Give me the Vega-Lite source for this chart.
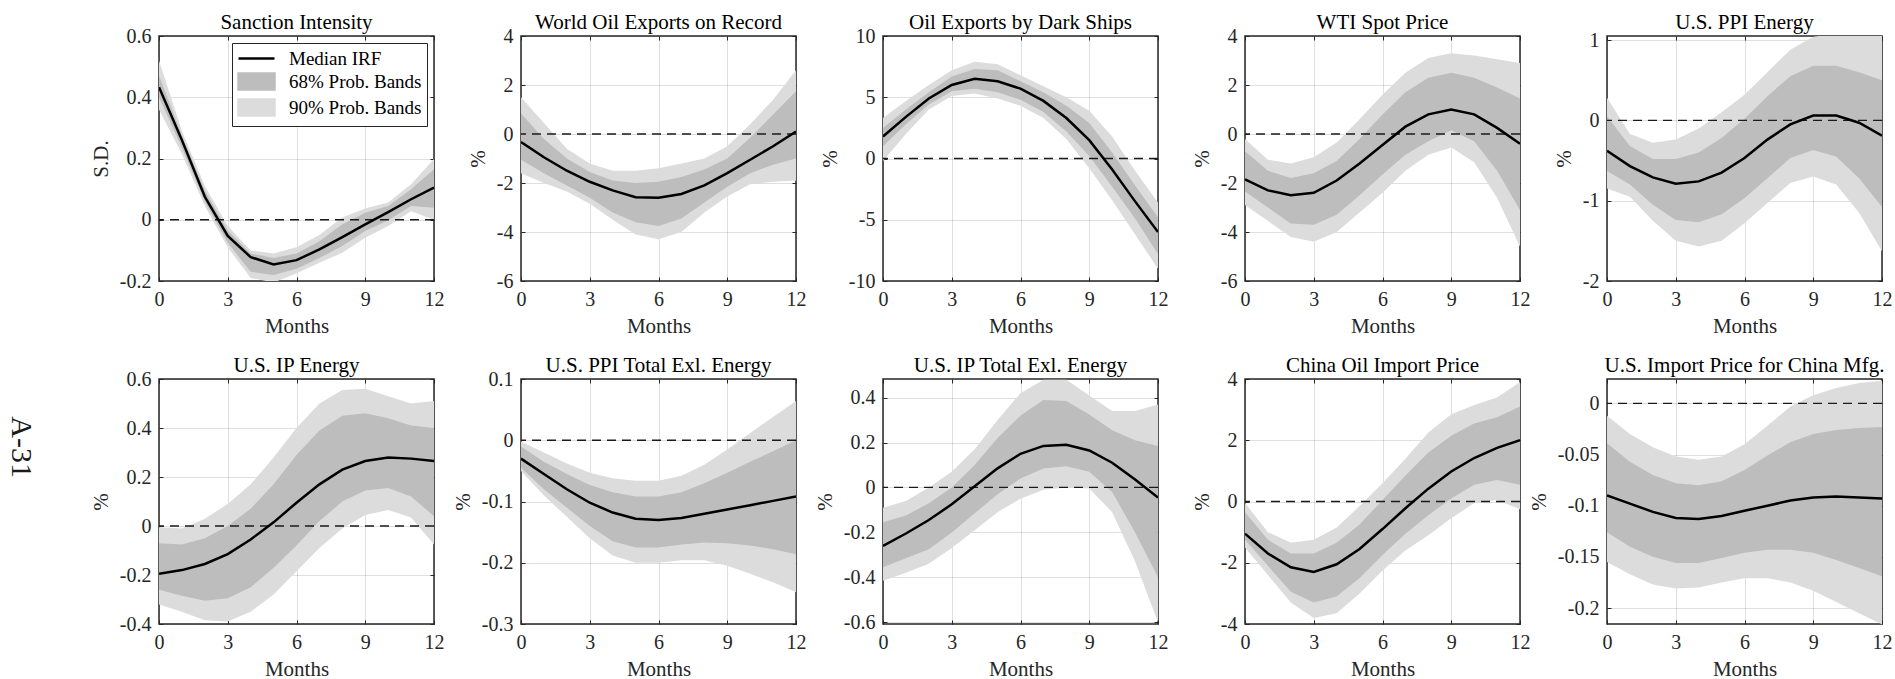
{
"$schema": "https://vega.github.io/schema/vega-lite/v6.json",
"padding": {"left": 5, "top": 11, "right": 5, "bottom": 5},
"title": {"text": "A-31", "orient": "left", "angle": 90, "fontSize": 30, "font": "Liberation Serif", "fontWeight": "normal", "color": "#1a1a1a", "offset": 24, "dx": -264},
"datasets": {"irf": [
{"p":1,"m":0,"med":0.433,"lo68":0.40,"hi68":0.47,"lo90":0.36,"hi90":0.52},
{"p":1,"m":1,"med":0.26,"lo68":0.235,"hi68":0.275,"lo90":0.215,"hi90":0.29},
{"p":1,"m":2,"med":0.075,"lo68":0.06,"hi68":0.095,"lo90":0.045,"hi90":0.11},
{"p":1,"m":3,"med":-0.053,"lo68":-0.075,"hi68":-0.035,"lo90":-0.09,"hi90":-0.02},
{"p":1,"m":4,"med":-0.122,"lo68":-0.17,"hi68":-0.11,"lo90":-0.19,"hi90":-0.10},
{"p":1,"m":5,"med":-0.146,"lo68":-0.18,"hi68":-0.125,"lo90":-0.205,"hi90":-0.11},
{"p":1,"m":6,"med":-0.132,"lo68":-0.16,"hi68":-0.11,"lo90":-0.175,"hi90":-0.09},
{"p":1,"m":7,"med":-0.097,"lo68":-0.125,"hi68":-0.07,"lo90":-0.14,"hi90":-0.05},
{"p":1,"m":8,"med":-0.057,"lo68":-0.086,"hi68":-0.015,"lo90":-0.108,"hi90":0.007},
{"p":1,"m":9,"med":-0.015,"lo68":-0.037,"hi68":0.023,"lo90":-0.059,"hi90":0.037},
{"p":1,"m":10,"med":0.025,"lo68":-0.002,"hi68":0.045,"lo90":-0.02,"hi90":0.056},
{"p":1,"m":11,"med":0.067,"lo68":0.045,"hi68":0.10,"lo90":0.028,"hi90":0.116},
{"p":1,"m":12,"med":0.105,"lo68":0.039,"hi68":0.165,"lo90":0.0,"hi90":0.198},
{"p":2,"m":0,"med":-0.33,"lo68":-1.05,"hi68":0.85,"lo90":-1.6,"hi90":1.5},
{"p":2,"m":1,"med":-0.95,"lo68":-1.6,"hi68":-0.2,"lo90":-2.0,"hi90":0.45},
{"p":2,"m":2,"med":-1.5,"lo68":-2.1,"hi68":-1.0,"lo90":-2.35,"hi90":-0.6},
{"p":2,"m":3,"med":-1.95,"lo68":-2.6,"hi68":-1.55,"lo90":-2.85,"hi90":-1.2},
{"p":2,"m":4,"med":-2.3,"lo68":-3.2,"hi68":-1.9,"lo90":-3.5,"hi90":-1.5},
{"p":2,"m":5,"med":-2.58,"lo68":-3.6,"hi68":-2.0,"lo90":-4.1,"hi90":-1.5},
{"p":2,"m":6,"med":-2.6,"lo68":-3.75,"hi68":-1.95,"lo90":-4.3,"hi90":-1.4},
{"p":2,"m":7,"med":-2.45,"lo68":-3.45,"hi68":-1.75,"lo90":-4.0,"hi90":-1.2},
{"p":2,"m":8,"med":-2.1,"lo68":-2.8,"hi68":-1.45,"lo90":-3.2,"hi90":-1.0},
{"p":2,"m":9,"med":-1.6,"lo68":-2.15,"hi68":-1.0,"lo90":-2.55,"hi90":-0.5},
{"p":2,"m":10,"med":-1.05,"lo68":-1.6,"hi68":-0.15,"lo90":-2.05,"hi90":0.4},
{"p":2,"m":11,"med":-0.5,"lo68":-1.25,"hi68":0.8,"lo90":-1.95,"hi90":1.4},
{"p":2,"m":12,"med":0.1,"lo68":-1.0,"hi68":1.75,"lo90":-1.9,"hi90":2.6},
{"p":3,"m":0,"med":1.8,"lo68":1.0,"hi68":2.5,"lo90":-0.2,"hi90":3.3},
{"p":3,"m":1,"med":3.4,"lo68":2.8,"hi68":4.0,"lo90":2.0,"hi90":4.7},
{"p":3,"m":2,"med":4.9,"lo68":4.4,"hi68":5.4,"lo90":4.0,"hi90":6.0},
{"p":3,"m":3,"med":6.0,"lo68":5.5,"hi68":6.7,"lo90":5.1,"hi90":7.2},
{"p":3,"m":4,"med":6.5,"lo68":5.7,"hi68":7.3,"lo90":5.3,"hi90":7.9},
{"p":3,"m":5,"med":6.3,"lo68":5.4,"hi68":7.2,"lo90":4.9,"hi90":7.7},
{"p":3,"m":6,"med":5.7,"lo68":4.8,"hi68":6.3,"lo90":4.3,"hi90":6.8},
{"p":3,"m":7,"med":4.7,"lo68":3.8,"hi68":5.4,"lo90":3.3,"hi90":5.9},
{"p":3,"m":8,"med":3.3,"lo68":2.2,"hi68":4.3,"lo90":1.6,"hi90":5.0},
{"p":3,"m":9,"med":1.5,"lo68":0.2,"hi68":2.9,"lo90":-0.8,"hi90":3.9},
{"p":3,"m":10,"med":-0.9,"lo68":-2.3,"hi68":0.5,"lo90":-3.4,"hi90":1.8},
{"p":3,"m":11,"med":-3.5,"lo68":-4.9,"hi68":-2.2,"lo90":-6.2,"hi90":-1.0},
{"p":3,"m":12,"med":-6.0,"lo68":-7.8,"hi68":-4.8,"lo90":-9.0,"hi90":-3.6},
{"p":4,"m":0,"med":-1.85,"lo68":-2.35,"hi68":-0.7,"lo90":-2.9,"hi90":-0.2},
{"p":4,"m":1,"med":-2.3,"lo68":-3.0,"hi68":-1.5,"lo90":-3.55,"hi90":-1.05},
{"p":4,"m":2,"med":-2.5,"lo68":-3.65,"hi68":-1.8,"lo90":-4.2,"hi90":-1.2},
{"p":4,"m":3,"med":-2.4,"lo68":-3.7,"hi68":-1.6,"lo90":-4.4,"hi90":-0.95},
{"p":4,"m":4,"med":-1.9,"lo68":-3.3,"hi68":-1.1,"lo90":-4.0,"hi90":-0.35},
{"p":4,"m":5,"med":-1.2,"lo68":-2.5,"hi68":-0.2,"lo90":-3.2,"hi90":0.6},
{"p":4,"m":6,"med":-0.45,"lo68":-1.65,"hi68":0.8,"lo90":-2.4,"hi90":1.6},
{"p":4,"m":7,"med":0.3,"lo68":-0.85,"hi68":1.7,"lo90":-1.5,"hi90":2.5},
{"p":4,"m":8,"med":0.8,"lo68":-0.3,"hi68":2.3,"lo90":-0.85,"hi90":3.1},
{"p":4,"m":9,"med":1.0,"lo68":0.15,"hi68":2.5,"lo90":-0.55,"hi90":3.3},
{"p":4,"m":10,"med":0.8,"lo68":-0.3,"hi68":2.3,"lo90":-1.15,"hi90":3.2},
{"p":4,"m":11,"med":0.25,"lo68":-1.5,"hi68":1.9,"lo90":-2.6,"hi90":3.05},
{"p":4,"m":12,"med":-0.4,"lo68":-3.1,"hi68":1.45,"lo90":-4.6,"hi90":2.9},
{"p":5,"m":0,"med":-0.38,"lo68":-0.63,"hi68":0.05,"lo90":-0.85,"hi90":0.28},
{"p":5,"m":1,"med":-0.57,"lo68":-0.8,"hi68":-0.32,"lo90":-0.95,"hi90":-0.17},
{"p":5,"m":2,"med":-0.71,"lo68":-1.05,"hi68":-0.48,"lo90":-1.25,"hi90":-0.28},
{"p":5,"m":3,"med":-0.79,"lo68":-1.24,"hi68":-0.48,"lo90":-1.5,"hi90":-0.24},
{"p":5,"m":4,"med":-0.76,"lo68":-1.27,"hi68":-0.4,"lo90":-1.57,"hi90":-0.1},
{"p":5,"m":5,"med":-0.65,"lo68":-1.17,"hi68":-0.22,"lo90":-1.5,"hi90":0.1},
{"p":5,"m":6,"med":-0.47,"lo68":-0.97,"hi68":0.02,"lo90":-1.28,"hi90":0.32},
{"p":5,"m":7,"med":-0.24,"lo68":-0.72,"hi68":0.3,"lo90":-1.03,"hi90":0.6},
{"p":5,"m":8,"med":-0.05,"lo68":-0.47,"hi68":0.55,"lo90":-0.78,"hi90":0.88},
{"p":5,"m":9,"med":0.06,"lo68":-0.37,"hi68":0.68,"lo90":-0.7,"hi90":1.04},
{"p":5,"m":10,"med":0.06,"lo68":-0.45,"hi68":0.68,"lo90":-0.8,"hi90":1.08},
{"p":5,"m":11,"med":-0.03,"lo68":-0.72,"hi68":0.6,"lo90":-1.15,"hi90":1.1},
{"p":5,"m":12,"med":-0.19,"lo68":-1.08,"hi68":0.5,"lo90":-1.63,"hi90":1.12},
{"p":6,"m":0,"med":-0.195,"lo68":-0.26,"hi68":-0.07,"lo90":-0.32,"hi90":-0.005},
{"p":6,"m":1,"med":-0.18,"lo68":-0.285,"hi68":-0.075,"lo90":-0.35,"hi90":-0.01},
{"p":6,"m":2,"med":-0.155,"lo68":-0.305,"hi68":-0.05,"lo90":-0.385,"hi90":0.03},
{"p":6,"m":3,"med":-0.115,"lo68":-0.295,"hi68":0.0,"lo90":-0.39,"hi90":0.09},
{"p":6,"m":4,"med":-0.055,"lo68":-0.25,"hi68":0.07,"lo90":-0.35,"hi90":0.17},
{"p":6,"m":5,"med":0.015,"lo68":-0.17,"hi68":0.17,"lo90":-0.28,"hi90":0.28},
{"p":6,"m":6,"med":0.095,"lo68":-0.08,"hi68":0.29,"lo90":-0.185,"hi90":0.4},
{"p":6,"m":7,"med":0.17,"lo68":0.02,"hi68":0.39,"lo90":-0.09,"hi90":0.5},
{"p":6,"m":8,"med":0.23,"lo68":0.1,"hi68":0.45,"lo90":-0.01,"hi90":0.555},
{"p":6,"m":9,"med":0.265,"lo68":0.145,"hi68":0.46,"lo90":0.045,"hi90":0.56},
{"p":6,"m":10,"med":0.28,"lo68":0.155,"hi68":0.44,"lo90":0.065,"hi90":0.53},
{"p":6,"m":11,"med":0.275,"lo68":0.12,"hi68":0.41,"lo90":0.035,"hi90":0.5},
{"p":6,"m":12,"med":0.265,"lo68":0.04,"hi68":0.4,"lo90":-0.075,"hi90":0.51},
{"p":7,"m":0,"med":-0.03,"lo68":-0.045,"hi68":-0.01,"lo90":-0.05,"hi90":-0.002},
{"p":7,"m":1,"med":-0.055,"lo68":-0.08,"hi68":-0.035,"lo90":-0.09,"hi90":-0.02},
{"p":7,"m":2,"med":-0.08,"lo68":-0.11,"hi68":-0.055,"lo90":-0.125,"hi90":-0.038},
{"p":7,"m":3,"med":-0.102,"lo68":-0.14,"hi68":-0.073,"lo90":-0.16,"hi90":-0.053},
{"p":7,"m":4,"med":-0.118,"lo68":-0.165,"hi68":-0.085,"lo90":-0.188,"hi90":-0.062},
{"p":7,"m":5,"med":-0.128,"lo68":-0.175,"hi68":-0.092,"lo90":-0.2,"hi90":-0.066},
{"p":7,"m":6,"med":-0.13,"lo68":-0.175,"hi68":-0.092,"lo90":-0.2,"hi90":-0.066},
{"p":7,"m":7,"med":-0.127,"lo68":-0.17,"hi68":-0.085,"lo90":-0.196,"hi90":-0.058},
{"p":7,"m":8,"med":-0.12,"lo68":-0.167,"hi68":-0.07,"lo90":-0.196,"hi90":-0.04},
{"p":7,"m":9,"med":-0.113,"lo68":-0.168,"hi68":-0.053,"lo90":-0.205,"hi90":-0.015},
{"p":7,"m":10,"med":-0.106,"lo68":-0.172,"hi68":-0.035,"lo90":-0.218,"hi90":0.012},
{"p":7,"m":11,"med":-0.099,"lo68":-0.178,"hi68":-0.018,"lo90":-0.232,"hi90":0.038},
{"p":7,"m":12,"med":-0.092,"lo68":-0.186,"hi68":0.0,"lo90":-0.248,"hi90":0.064},
{"p":8,"m":0,"med":-0.26,"lo68":-0.355,"hi68":-0.155,"lo90":-0.415,"hi90":-0.09},
{"p":8,"m":1,"med":-0.205,"lo68":-0.315,"hi68":-0.125,"lo90":-0.38,"hi90":-0.06},
{"p":8,"m":2,"med":-0.145,"lo68":-0.275,"hi68":-0.07,"lo90":-0.34,"hi90":0.0},
{"p":8,"m":3,"med":-0.075,"lo68":-0.2,"hi68":0.0,"lo90":-0.27,"hi90":0.07},
{"p":8,"m":4,"med":0.005,"lo68":-0.115,"hi68":0.1,"lo90":-0.19,"hi90":0.17},
{"p":8,"m":5,"med":0.085,"lo68":-0.03,"hi68":0.22,"lo90":-0.11,"hi90":0.3},
{"p":8,"m":6,"med":0.15,"lo68":0.04,"hi68":0.32,"lo90":-0.05,"hi90":0.42},
{"p":8,"m":7,"med":0.185,"lo68":0.085,"hi68":0.39,"lo90":-0.01,"hi90":0.48},
{"p":8,"m":8,"med":0.19,"lo68":0.095,"hi68":0.385,"lo90":0.0,"hi90":0.48},
{"p":8,"m":9,"med":0.165,"lo68":0.07,"hi68":0.325,"lo90":-0.005,"hi90":0.41},
{"p":8,"m":10,"med":0.11,"lo68":-0.02,"hi68":0.255,"lo90":-0.11,"hi90":0.34},
{"p":8,"m":11,"med":0.035,"lo68":-0.2,"hi68":0.21,"lo90":-0.33,"hi90":0.34},
{"p":8,"m":12,"med":-0.045,"lo68":-0.4,"hi68":0.185,"lo90":-0.6,"hi90":0.37},
{"p":9,"m":0,"med":-1.05,"lo68":-1.25,"hi68":-0.35,"lo90":-1.5,"hi90":-0.05},
{"p":9,"m":1,"med":-1.7,"lo68":-2.1,"hi68":-1.25,"lo90":-2.4,"hi90":-1.0},
{"p":9,"m":2,"med":-2.15,"lo68":-2.95,"hi68":-1.7,"lo90":-3.3,"hi90":-1.35},
{"p":9,"m":3,"med":-2.3,"lo68":-3.3,"hi68":-1.7,"lo90":-3.8,"hi90":-1.25},
{"p":9,"m":4,"med":-2.05,"lo68":-3.1,"hi68":-1.35,"lo90":-3.65,"hi90":-0.85},
{"p":9,"m":5,"med":-1.55,"lo68":-2.5,"hi68":-0.75,"lo90":-3.0,"hi90":-0.15},
{"p":9,"m":6,"med":-0.9,"lo68":-1.75,"hi68":0.05,"lo90":-2.25,"hi90":0.6},
{"p":9,"m":7,"med":-0.22,"lo68":-1.05,"hi68":0.85,"lo90":-1.6,"hi90":1.4},
{"p":9,"m":8,"med":0.42,"lo68":-0.45,"hi68":1.6,"lo90":-1.1,"hi90":2.25},
{"p":9,"m":9,"med":0.98,"lo68":0.1,"hi68":2.15,"lo90":-0.55,"hi90":2.85},
{"p":9,"m":10,"med":1.42,"lo68":0.55,"hi68":2.55,"lo90":-0.05,"hi90":3.15},
{"p":9,"m":11,"med":1.75,"lo68":0.7,"hi68":2.75,"lo90":0.05,"hi90":3.4},
{"p":9,"m":12,"med":2.0,"lo68":0.55,"hi68":3.1,"lo90":-0.25,"hi90":3.9},
{"p":10,"m":0,"med":-0.09,"lo68":-0.126,"hi68":-0.039,"lo90":-0.155,"hi90":-0.012},
{"p":10,"m":1,"med":-0.098,"lo68":-0.14,"hi68":-0.057,"lo90":-0.167,"hi90":-0.03},
{"p":10,"m":2,"med":-0.106,"lo68":-0.15,"hi68":-0.07,"lo90":-0.177,"hi90":-0.043},
{"p":10,"m":3,"med":-0.112,"lo68":-0.156,"hi68":-0.078,"lo90":-0.181,"hi90":-0.052},
{"p":10,"m":4,"med":-0.113,"lo68":-0.156,"hi68":-0.08,"lo90":-0.18,"hi90":-0.055},
{"p":10,"m":5,"med":-0.11,"lo68":-0.151,"hi68":-0.076,"lo90":-0.175,"hi90":-0.052},
{"p":10,"m":6,"med":-0.105,"lo68":-0.146,"hi68":-0.065,"lo90":-0.171,"hi90":-0.04},
{"p":10,"m":7,"med":-0.1,"lo68":-0.143,"hi68":-0.051,"lo90":-0.171,"hi90":-0.022},
{"p":10,"m":8,"med":-0.095,"lo68":-0.143,"hi68":-0.038,"lo90":-0.175,"hi90":-0.003},
{"p":10,"m":9,"med":-0.092,"lo68":-0.146,"hi68":-0.03,"lo90":-0.183,"hi90":0.008},
{"p":10,"m":10,"med":-0.091,"lo68":-0.153,"hi68":-0.026,"lo90":-0.194,"hi90":0.015},
{"p":10,"m":11,"med":-0.092,"lo68":-0.161,"hi68":-0.024,"lo90":-0.205,"hi90":0.02},
{"p":10,"m":12,"med":-0.093,"lo68":-0.169,"hi68":-0.023,"lo90":-0.216,"hi90":0.022}
]},
"columns": 5,
"spacing": {"row": 98, "column": 87},
"bounds": "flush",
"resolve": {"scale": {"color": "independent"}, "legend": {"color": "independent"}},
"concat": [
{"width": 275, "height": 245, "title": {"text": "Sanction Intensity", "offset": -7}, "data": {"name": "irf"}, "transform": [{"filter": "datum.p == 1"}],
 "resolve": {"axis": {"x": "independent", "y": "independent"}},
 "layer": [
  {"mark": {"type": "area", "clip": true}, "encoding": {
    "x": {"field": "m", "type": "quantitative", "title": "Months", "scale": {"domain": [0, 12], "nice": false}, "axis": {"values": [0, 3, 6, 9, 12]}},
    "y": {"field": "lo90", "type": "quantitative", "title": "S.D.", "scale": {"domain": [-0.2, 0.6], "nice": false, "zero": false}, "axis": {"values": [-0.2, 0, 0.2, 0.4, 0.6], "labelExpr": "'' + datum.value"}},
    "y2": {"field": "hi90"},
    "color": {"datum": "90% Prob. Bands", "type": "nominal",
      "scale": {"domain": ["Median IRF", "68% Prob. Bands", "90% Prob. Bands"], "range": ["#000000", "#bdbdbd", "#dcdcdc"]},
      "legend": {"title": null, "orient": "top-right", "offset": 7, "fillColor": "white", "strokeColor": "#262626", "padding": 5, "rowPadding": -1, "labelFont": "Liberation Serif", "labelFontSize": 19, "labelColor": "black", "labelOffset": 22, "symbolOffset": 9, "symbolSize": 324,
        "encode": {"symbols": {"update": {
          "shape": {"signal": "datum.value === 'Median IRF' ? 'M-2,0H2' : 'M-2,-0.89H2V0.89H-2Z'"},
          "fill": {"signal": "datum.value === 'Median IRF' ? 'transparent' : (datum.value === '68% Prob. Bands' ? '#bdbdbd' : '#dcdcdc')"},
          "stroke": {"signal": "datum.value === 'Median IRF' ? '#000000' : 'transparent'"},
          "strokeWidth": {"value": 2.5},
          "size": {"value": 324},
          "opacity": {"value": 1}, "fillOpacity": {"value": 1}, "strokeOpacity": {"value": 1}}}}}}}},
  {"mark": {"type": "area", "clip": true}, "encoding": {
    "x": {"field": "m", "type": "quantitative", "title": "Months", "axis": null},
    "y": {"field": "lo68", "type": "quantitative", "title": "S.D.", "axis": null},
    "y2": {"field": "hi68"},
    "color": {"datum": "68% Prob. Bands", "type": "nominal"}}},
  {"data": {"values": [{}]}, "mark": {"type": "rule", "strokeDash": [9, 6], "strokeWidth": 1.3, "color": "#1a1a1a"}, "encoding": {"y": {"datum": 0, "type": "quantitative", "axis": null}}},
  {"mark": {"type": "line", "strokeWidth": 2.5, "clip": true}, "encoding": {
    "x": {"field": "m", "type": "quantitative", "title": null, "axis": {"orient": "top", "labels": false, "grid": false, "values": [0, 3, 6, 9, 12]}},
    "y": {"field": "med", "type": "quantitative", "title": null, "axis": {"orient": "right", "labels": false, "grid": false, "values": [-0.2, 0, 0.2, 0.4, 0.6]}},
    "color": {"datum": "Median IRF", "type": "nominal"}}}
 ]},
{"width": 275, "height": 245, "title": {"text": "World Oil Exports on Record", "offset": -7}, "data": {"name": "irf"}, "transform": [{"filter": "datum.p == 2"}],
 "resolve": {"axis": {"x": "independent", "y": "independent"}},
 "layer": [
  {"mark": {"type": "area", "color": "#dcdcdc", "clip": true}, "encoding": {
    "x": {"field": "m", "type": "quantitative", "title": "Months", "scale": {"domain": [0, 12], "nice": false}, "axis": {"values": [0, 3, 6, 9, 12]}},
    "y": {"field": "lo90", "type": "quantitative", "title": "%", "scale": {"domain": [-6, 4], "nice": false, "zero": false}, "axis": {"values": [-6, -4, -2, 0, 2, 4], "labelExpr": "'' + datum.value"}},
    "y2": {"field": "hi90"}}},
  {"mark": {"type": "area", "color": "#bdbdbd", "clip": true}, "encoding": {
    "x": {"field": "m", "type": "quantitative", "axis": null},
    "y": {"field": "lo68", "type": "quantitative", "axis": null}, "y2": {"field": "hi68"}}},
  {"data": {"values": [{}]}, "mark": {"type": "rule", "strokeDash": [9, 6], "strokeWidth": 1.3, "color": "#1a1a1a"}, "encoding": {"y": {"datum": 0, "type": "quantitative", "axis": null}}},
  {"mark": {"type": "line", "strokeWidth": 2.5, "color": "#000000", "clip": true}, "encoding": {
    "x": {"field": "m", "type": "quantitative", "title": null, "axis": {"orient": "top", "labels": false, "grid": false, "values": [0, 3, 6, 9, 12]}},
    "y": {"field": "med", "type": "quantitative", "title": null, "axis": {"orient": "right", "labels": false, "grid": false, "values": [-6, -4, -2, 0, 2, 4]}}}}
 ]},
{"width": 275, "height": 245, "title": {"text": "Oil Exports by Dark Ships", "offset": -7}, "data": {"name": "irf"}, "transform": [{"filter": "datum.p == 3"}],
 "resolve": {"axis": {"x": "independent", "y": "independent"}},
 "layer": [
  {"mark": {"type": "area", "color": "#dcdcdc", "clip": true}, "encoding": {
    "x": {"field": "m", "type": "quantitative", "title": "Months", "scale": {"domain": [0, 12], "nice": false}, "axis": {"values": [0, 3, 6, 9, 12]}},
    "y": {"field": "lo90", "type": "quantitative", "title": "%", "scale": {"domain": [-10, 10], "nice": false, "zero": false}, "axis": {"values": [-10, -5, 0, 5, 10], "labelExpr": "'' + datum.value"}},
    "y2": {"field": "hi90"}}},
  {"mark": {"type": "area", "color": "#bdbdbd", "clip": true}, "encoding": {
    "x": {"field": "m", "type": "quantitative", "axis": null},
    "y": {"field": "lo68", "type": "quantitative", "axis": null}, "y2": {"field": "hi68"}}},
  {"data": {"values": [{}]}, "mark": {"type": "rule", "strokeDash": [9, 6], "strokeWidth": 1.3, "color": "#1a1a1a"}, "encoding": {"y": {"datum": 0, "type": "quantitative", "axis": null}}},
  {"mark": {"type": "line", "strokeWidth": 2.5, "color": "#000000", "clip": true}, "encoding": {
    "x": {"field": "m", "type": "quantitative", "title": null, "axis": {"orient": "top", "labels": false, "grid": false, "values": [0, 3, 6, 9, 12]}},
    "y": {"field": "med", "type": "quantitative", "title": null, "axis": {"orient": "right", "labels": false, "grid": false, "values": [-10, -5, 0, 5, 10]}}}}
 ]},
{"width": 275, "height": 245, "title": {"text": "WTI Spot Price", "offset": -7}, "data": {"name": "irf"}, "transform": [{"filter": "datum.p == 4"}],
 "resolve": {"axis": {"x": "independent", "y": "independent"}},
 "layer": [
  {"mark": {"type": "area", "color": "#dcdcdc", "clip": true}, "encoding": {
    "x": {"field": "m", "type": "quantitative", "title": "Months", "scale": {"domain": [0, 12], "nice": false}, "axis": {"values": [0, 3, 6, 9, 12]}},
    "y": {"field": "lo90", "type": "quantitative", "title": "%", "scale": {"domain": [-6, 4], "nice": false, "zero": false}, "axis": {"values": [-6, -4, -2, 0, 2, 4], "labelExpr": "'' + datum.value"}},
    "y2": {"field": "hi90"}}},
  {"mark": {"type": "area", "color": "#bdbdbd", "clip": true}, "encoding": {
    "x": {"field": "m", "type": "quantitative", "axis": null},
    "y": {"field": "lo68", "type": "quantitative", "axis": null}, "y2": {"field": "hi68"}}},
  {"data": {"values": [{}]}, "mark": {"type": "rule", "strokeDash": [9, 6], "strokeWidth": 1.3, "color": "#1a1a1a"}, "encoding": {"y": {"datum": 0, "type": "quantitative", "axis": null}}},
  {"mark": {"type": "line", "strokeWidth": 2.5, "color": "#000000", "clip": true}, "encoding": {
    "x": {"field": "m", "type": "quantitative", "title": null, "axis": {"orient": "top", "labels": false, "grid": false, "values": [0, 3, 6, 9, 12]}},
    "y": {"field": "med", "type": "quantitative", "title": null, "axis": {"orient": "right", "labels": false, "grid": false, "values": [-6, -4, -2, 0, 2, 4]}}}}
 ]},
{"width": 275, "height": 245, "title": {"text": "U.S. PPI Energy", "offset": -3}, "data": {"name": "irf"}, "transform": [{"filter": "datum.p == 5"}],
 "resolve": {"axis": {"x": "independent", "y": "independent"}},
 "layer": [
  {"mark": {"type": "area", "color": "#dcdcdc", "clip": true}, "encoding": {
    "x": {"field": "m", "type": "quantitative", "title": "Months", "scale": {"domain": [0, 12], "nice": false}, "axis": {"values": [0, 3, 6, 9, 12]}},
    "y": {"field": "lo90", "type": "quantitative", "title": "%", "scale": {"domain": [-2, 1.05], "nice": false, "zero": false}, "axis": {"values": [-2, -1, 0, 1], "labelExpr": "'' + datum.value"}},
    "y2": {"field": "hi90"}}},
  {"mark": {"type": "area", "color": "#bdbdbd", "clip": true}, "encoding": {
    "x": {"field": "m", "type": "quantitative", "axis": null},
    "y": {"field": "lo68", "type": "quantitative", "axis": null}, "y2": {"field": "hi68"}}},
  {"data": {"values": [{}]}, "mark": {"type": "rule", "strokeDash": [9, 6], "strokeWidth": 1.3, "color": "#1a1a1a"}, "encoding": {"y": {"datum": 0, "type": "quantitative", "axis": null}}},
  {"mark": {"type": "line", "strokeWidth": 2.5, "color": "#000000", "clip": true}, "encoding": {
    "x": {"field": "m", "type": "quantitative", "title": null, "axis": {"orient": "top", "labels": false, "grid": false, "values": [0, 3, 6, 9, 12]}},
    "y": {"field": "med", "type": "quantitative", "title": null, "axis": {"orient": "right", "labels": false, "grid": false, "values": [-2, -1, 0, 1]}}}}
 ]},
{"width": 275, "height": 245, "title": {"text": "U.S. IP Energy", "offset": -7}, "data": {"name": "irf"}, "transform": [{"filter": "datum.p == 6"}],
 "resolve": {"axis": {"x": "independent", "y": "independent"}},
 "layer": [
  {"mark": {"type": "area", "color": "#dcdcdc", "clip": true}, "encoding": {
    "x": {"field": "m", "type": "quantitative", "title": "Months", "scale": {"domain": [0, 12], "nice": false}, "axis": {"values": [0, 3, 6, 9, 12]}},
    "y": {"field": "lo90", "type": "quantitative", "title": "%", "scale": {"domain": [-0.4, 0.6], "nice": false, "zero": false}, "axis": {"values": [-0.4, -0.2, 0, 0.2, 0.4, 0.6], "labelExpr": "'' + datum.value"}},
    "y2": {"field": "hi90"}}},
  {"mark": {"type": "area", "color": "#bdbdbd", "clip": true}, "encoding": {
    "x": {"field": "m", "type": "quantitative", "axis": null},
    "y": {"field": "lo68", "type": "quantitative", "axis": null}, "y2": {"field": "hi68"}}},
  {"data": {"values": [{}]}, "mark": {"type": "rule", "strokeDash": [9, 6], "strokeWidth": 1.3, "color": "#1a1a1a"}, "encoding": {"y": {"datum": 0, "type": "quantitative", "axis": null}}},
  {"mark": {"type": "line", "strokeWidth": 2.5, "color": "#000000", "clip": true}, "encoding": {
    "x": {"field": "m", "type": "quantitative", "title": null, "axis": {"orient": "top", "labels": false, "grid": false, "values": [0, 3, 6, 9, 12]}},
    "y": {"field": "med", "type": "quantitative", "title": null, "axis": {"orient": "right", "labels": false, "grid": false, "values": [-0.4, -0.2, 0, 0.2, 0.4, 0.6]}}}}
 ]},
{"width": 275, "height": 245, "title": {"text": "U.S. PPI Total Exl. Energy", "offset": -7}, "data": {"name": "irf"}, "transform": [{"filter": "datum.p == 7"}],
 "resolve": {"axis": {"x": "independent", "y": "independent"}},
 "layer": [
  {"mark": {"type": "area", "color": "#dcdcdc", "clip": true}, "encoding": {
    "x": {"field": "m", "type": "quantitative", "title": "Months", "scale": {"domain": [0, 12], "nice": false}, "axis": {"values": [0, 3, 6, 9, 12]}},
    "y": {"field": "lo90", "type": "quantitative", "title": "%", "scale": {"domain": [-0.3, 0.1], "nice": false, "zero": false}, "axis": {"values": [-0.3, -0.2, -0.1, 0, 0.1], "labelExpr": "'' + datum.value"}},
    "y2": {"field": "hi90"}}},
  {"mark": {"type": "area", "color": "#bdbdbd", "clip": true}, "encoding": {
    "x": {"field": "m", "type": "quantitative", "axis": null},
    "y": {"field": "lo68", "type": "quantitative", "axis": null}, "y2": {"field": "hi68"}}},
  {"data": {"values": [{}]}, "mark": {"type": "rule", "strokeDash": [9, 6], "strokeWidth": 1.3, "color": "#1a1a1a"}, "encoding": {"y": {"datum": 0, "type": "quantitative", "axis": null}}},
  {"mark": {"type": "line", "strokeWidth": 2.5, "color": "#000000", "clip": true}, "encoding": {
    "x": {"field": "m", "type": "quantitative", "title": null, "axis": {"orient": "top", "labels": false, "grid": false, "values": [0, 3, 6, 9, 12]}},
    "y": {"field": "med", "type": "quantitative", "title": null, "axis": {"orient": "right", "labels": false, "grid": false, "values": [-0.3, -0.2, -0.1, 0, 0.1]}}}}
 ]},
{"width": 275, "height": 245, "title": {"text": "U.S. IP Total Exl. Energy", "offset": 3}, "data": {"name": "irf"}, "transform": [{"filter": "datum.p == 8"}],
 "resolve": {"axis": {"x": "independent", "y": "independent"}},
 "layer": [
  {"mark": {"type": "area", "color": "#dcdcdc", "clip": true}, "encoding": {
    "x": {"field": "m", "type": "quantitative", "title": "Months", "scale": {"domain": [0, 12], "nice": false}, "axis": {"values": [0, 3, 6, 9, 12]}},
    "y": {"field": "lo90", "type": "quantitative", "title": "%", "scale": {"domain": [-0.608, 0.483], "nice": false, "zero": false}, "axis": {"values": [-0.6, -0.4, -0.2, 0, 0.2, 0.4], "labelExpr": "'' + datum.value"}},
    "y2": {"field": "hi90"}}},
  {"mark": {"type": "area", "color": "#bdbdbd", "clip": true}, "encoding": {
    "x": {"field": "m", "type": "quantitative", "axis": null},
    "y": {"field": "lo68", "type": "quantitative", "axis": null}, "y2": {"field": "hi68"}}},
  {"data": {"values": [{}]}, "mark": {"type": "rule", "strokeDash": [9, 6], "strokeWidth": 1.3, "color": "#1a1a1a"}, "encoding": {"y": {"datum": 0, "type": "quantitative", "axis": null}}},
  {"mark": {"type": "line", "strokeWidth": 2.5, "color": "#000000", "clip": true}, "encoding": {
    "x": {"field": "m", "type": "quantitative", "title": null, "axis": {"orient": "top", "labels": false, "grid": false, "values": [0, 3, 6, 9, 12]}},
    "y": {"field": "med", "type": "quantitative", "title": null, "axis": {"orient": "right", "labels": false, "grid": false, "values": [-0.6, -0.4, -0.2, 0, 0.2, 0.4]}}}}
 ]},
{"width": 275, "height": 245, "title": {"text": "China Oil Import Price", "offset": -7}, "data": {"name": "irf"}, "transform": [{"filter": "datum.p == 9"}],
 "resolve": {"axis": {"x": "independent", "y": "independent"}},
 "layer": [
  {"mark": {"type": "area", "color": "#dcdcdc", "clip": true}, "encoding": {
    "x": {"field": "m", "type": "quantitative", "title": "Months", "scale": {"domain": [0, 12], "nice": false}, "axis": {"values": [0, 3, 6, 9, 12]}},
    "y": {"field": "lo90", "type": "quantitative", "title": "%", "scale": {"domain": [-4, 4], "nice": false, "zero": false}, "axis": {"values": [-4, -2, 0, 2, 4], "labelExpr": "'' + datum.value"}},
    "y2": {"field": "hi90"}}},
  {"mark": {"type": "area", "color": "#bdbdbd", "clip": true}, "encoding": {
    "x": {"field": "m", "type": "quantitative", "axis": null},
    "y": {"field": "lo68", "type": "quantitative", "axis": null}, "y2": {"field": "hi68"}}},
  {"data": {"values": [{}]}, "mark": {"type": "rule", "strokeDash": [9, 6], "strokeWidth": 1.3, "color": "#1a1a1a"}, "encoding": {"y": {"datum": 0, "type": "quantitative", "axis": null}}},
  {"mark": {"type": "line", "strokeWidth": 2.5, "color": "#000000", "clip": true}, "encoding": {
    "x": {"field": "m", "type": "quantitative", "title": null, "axis": {"orient": "top", "labels": false, "grid": false, "values": [0, 3, 6, 9, 12]}},
    "y": {"field": "med", "type": "quantitative", "title": null, "axis": {"orient": "right", "labels": false, "grid": false, "values": [-4, -2, 0, 2, 4]}}}}
 ]},
{"width": 275, "height": 245, "title": {"text": "U.S. Import Price for China Mfg.", "offset": 3}, "data": {"name": "irf"}, "transform": [{"filter": "datum.p == 10"}],
 "resolve": {"axis": {"x": "independent", "y": "independent"}},
 "layer": [
  {"mark": {"type": "area", "color": "#dcdcdc", "clip": true}, "encoding": {
    "x": {"field": "m", "type": "quantitative", "title": "Months", "scale": {"domain": [0, 12], "nice": false}, "axis": {"values": [0, 3, 6, 9, 12]}},
    "y": {"field": "lo90", "type": "quantitative", "title": "%", "scale": {"domain": [-0.2156, 0.0238], "nice": false, "zero": false}, "axis": {"values": [-0.2, -0.15, -0.1, -0.05, 0], "labelExpr": "'' + datum.value"}},
    "y2": {"field": "hi90"}}},
  {"mark": {"type": "area", "color": "#bdbdbd", "clip": true}, "encoding": {
    "x": {"field": "m", "type": "quantitative", "axis": null},
    "y": {"field": "lo68", "type": "quantitative", "axis": null}, "y2": {"field": "hi68"}}},
  {"data": {"values": [{}]}, "mark": {"type": "rule", "strokeDash": [9, 6], "strokeWidth": 1.3, "color": "#1a1a1a"}, "encoding": {"y": {"datum": 0, "type": "quantitative", "axis": null}}},
  {"mark": {"type": "line", "strokeWidth": 2.5, "color": "#000000", "clip": true}, "encoding": {
    "x": {"field": "m", "type": "quantitative", "title": null, "axis": {"orient": "top", "labels": false, "grid": false, "values": [0, 3, 6, 9, 12]}},
    "y": {"field": "med", "type": "quantitative", "title": null, "axis": {"orient": "right", "labels": false, "grid": false, "values": [-0.2, -0.15, -0.1, -0.05, 0]}}}}
 ]}
],
"config": {
  "font": "Liberation Serif",
  "view": {"stroke": "#262626", "strokeWidth": 1.5},
  "axis": {"grid": true, "gridColor": "#262626", "gridOpacity": 0.15, "gridWidth": 1, "domain": false, "ticks": true, "tickSize": -4, "tickColor": "#262626", "tickWidth": 1,
    "labelFont": "Liberation Serif", "labelFontSize": 20, "labelColor": "#262626", "titleFont": "Liberation Serif", "titleFontSize": 21, "titleFontWeight": "normal", "titleColor": "#262626", "zindex": 1},
  "axisX": {"labelPadding": 12, "titlePadding": 6.5, "labelFlush": false},
  "axisY": {"labelPadding": 12, "titlePadding": 8, "labelFlush": false},
  "title": {"font": "Liberation Serif", "fontSize": 21, "fontWeight": "normal", "color": "#000000"}
}
}
